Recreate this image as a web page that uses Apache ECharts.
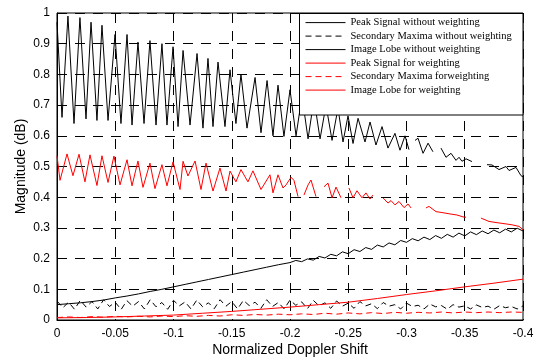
<!DOCTYPE html>
<html><head><meta charset="utf-8">
<script src="https://cdn.jsdelivr.net/npm/echarts@6/dist/echarts.min.js"></script>
<style>html,body{margin:0;padding:0;background:#fff}#c{width:534px;height:360px}</style>
</head><body><div id="c"></div>
<script>
const seriesNames = [
  'Peak Signal without weighting',
  'Secondary Maxima without weighting',
  'Image Lobe without weighting',
  'Peak Signal for weighting',
  'Secondary Maxima forweighting',
  'Image Lobe for weighting'
];
const xTicks = [0, -0.05, -0.1, -0.15, -0.2, -0.25, -0.3, -0.35, -0.4];
const yTicks = [0, 0.1, 0.2, 0.3, 0.4, 0.5, 0.6, 0.7, 0.8, 0.9, 1];

const peakNoWeight = [
 [0,0.97],[-0.0043,0.66],[-0.0094,0.99],[-0.0146,0.64],[-0.0197,0.985],[-0.0249,0.655],
 [-0.0292,0.97],[-0.0343,0.65],[-0.0386,0.96],[-0.0438,0.65],[-0.0498,0.93],[-0.0549,0.64],
 [-0.0601,0.93],[-0.0644,0.635],[-0.0695,0.905],[-0.0747,0.64],[-0.0798,0.91],[-0.085,0.635],
 [-0.0901,0.90],[-0.0944,0.635],[-0.0996,0.89],[-0.1039,0.63],[-0.1082,0.878],[-0.1142,0.635],
 [-0.1202,0.868],[-0.1253,0.625],[-0.1296,0.852],[-0.1339,0.63],[-0.1382,0.84],[-0.1442,0.63],
 [-0.1485,0.815],[-0.1536,0.64],[-0.1579,0.80],[-0.1631,0.625],[-0.17,0.79],[-0.1751,0.61],
 [-0.1803,0.78],[-0.1854,0.60],[-0.1897,0.765],[-0.1948,0.598],[-0.2,0.75],[-0.2052,0.60],
 [-0.2103,0.73],[-0.2155,0.59],[-0.2206,0.72],[-0.2258,0.59],[-0.2309,0.70],[-0.2361,0.585],
 [-0.2412,0.69],[-0.2455,0.58],[-0.2498,0.665],[-0.2541,0.575],[-0.2584,0.657],[-0.2644,0.58],
 [-0.2687,0.645],[-0.2738,0.57],[-0.279,0.63],[-0.2841,0.56],[-0.2901,0.608],[-0.2944,0.553],
 [-0.2987,0.60],[-0.3021,0.555],[-0.305,'-'],
 [-0.3073,0.585],[-0.3099,0.592],[-0.3142,0.543],[-0.3185,0.576],[-0.3227,0.548],[-0.326,'-'],
 [-0.3296,0.56],[-0.3339,0.53],[-0.3382,0.543],[-0.3425,0.52],[-0.3451,0.53],[-0.3476,0.517],
 [-0.3511,0.525],[-0.3562,0.516],[-0.362,'-'],
 [-0.3691,0.506],[-0.3734,0.505],[-0.3794,0.49],[-0.3854,0.50],[-0.388,0.487],[-0.394,0.497],
 [-0.3983,0.47],[-0.4,0.466]
];

const secondaryNoWeight = [
 0.062,0.040,0.058,0.035,0.064,0.042,0.060,0.036,0.066,0.044,
 0.058,0.034,0.063,0.045,0.060,0.036,0.066,0.043,0.057,0.035,
 0.064,0.046,0.059,0.036,0.065,0.043,0.056,0.037,0.066,0.045,
 0.060,0.036,0.064,0.047,0.058,0.038,0.066,0.044,0.057,0.036,
 0.065,0.048,0.059,0.037,0.064,0.046,0.056,0.038,0.062,0.045,
 0.055,0.038,0.060,0.046,0.053,0.037,0.057,0.045,0.050,0.036,
 0.055,0.044,0.048,0.036,0.052,0.043,0.047,0.035,0.050,0.042,
 0.046,0.036,0.049,0.041,0.045,0.035,0.047,0.040,0.044,0.036,
 0.046
];
const secondaryNoWeightX = [
 0,-0.005,-0.01,-0.015,-0.02,-0.025,-0.03,-0.035,-0.04,-0.045,
 -0.05,-0.055,-0.06,-0.065,-0.07,-0.075,-0.08,-0.085,-0.09,-0.095,
 -0.1,-0.105,-0.11,-0.115,-0.12,-0.125,-0.13,-0.135,-0.14,-0.145,
 -0.15,-0.155,-0.16,-0.165,-0.17,-0.175,-0.18,-0.185,-0.19,-0.195,
 -0.2,-0.205,-0.21,-0.215,-0.22,-0.225,-0.23,-0.235,-0.24,-0.245,
 -0.25,-0.255,-0.26,-0.265,-0.27,-0.275,-0.28,-0.285,-0.29,-0.295,
 -0.3,-0.305,-0.31,-0.315,-0.32,-0.325,-0.33,-0.335,-0.34,-0.345,
 -0.35,-0.355,-0.36,-0.365,-0.37,-0.375,-0.38,-0.385,-0.39,-0.395,
 -0.4
];

const imageNoWeight = [
 [0,0.05],[-0.01,0.053],[-0.02,0.056],[-0.03,0.06],[-0.04,0.065],[-0.05,0.072],
 [-0.06,0.078],[-0.07,0.085],[-0.08,0.093],[-0.09,0.10],[-0.1,0.108],[-0.11,0.116],
 [-0.12,0.124],[-0.13,0.132],[-0.14,0.14],[-0.15,0.148],[-0.16,0.156],[-0.17,0.164],
 [-0.18,0.172],[-0.19,0.18],[-0.2,0.187],
 [-0.205,0.194],[-0.21,0.190],[-0.215,0.199],[-0.22,0.195],[-0.225,0.207],[-0.23,0.202],
 [-0.235,0.214],[-0.24,0.209],[-0.245,0.222],[-0.25,0.216],[-0.255,0.229],[-0.26,0.223],
 [-0.265,0.236],[-0.27,0.230],[-0.275,0.244],[-0.28,0.238],[-0.285,0.251],[-0.29,0.245],
 [-0.295,0.259],[-0.3,0.253],[-0.305,0.265],[-0.31,0.258],[-0.315,0.270],[-0.32,0.262],
 [-0.325,0.275],[-0.33,0.266],[-0.335,0.279],[-0.34,0.270],[-0.345,0.283],[-0.35,0.274],
 [-0.355,0.287],[-0.36,0.278],[-0.365,0.290],[-0.37,0.281],[-0.375,0.293],[-0.38,0.284],
 [-0.385,0.296],[-0.39,0.287],[-0.395,0.299],[-0.4,0.290]
];

const peakWeight = [
 [0,0.535],[-0.0026,0.455],[-0.0086,0.541],[-0.0137,0.47],[-0.0189,0.54],[-0.024,0.45],
 [-0.0283,0.538],[-0.0343,0.438],[-0.0386,0.535],[-0.0438,0.448],[-0.0489,0.534],[-0.0541,0.44],
 [-0.0601,0.522],[-0.0644,0.437],[-0.0695,0.518],[-0.0738,0.432],[-0.0798,0.511],[-0.0841,0.428],
 [-0.0901,0.506],[-0.0944,0.437],[-0.0996,0.515],[-0.1056,0.425],[-0.1082,0.517],[-0.1124,0.469],
 [-0.1185,0.518],[-0.1236,0.425],[-0.1279,0.511],[-0.1339,0.42],[-0.1399,0.495],[-0.1451,0.42],
 [-0.1485,0.485],[-0.1536,0.45],[-0.1579,0.49],[-0.1639,0.45],[-0.1682,0.486],[-0.1751,0.425],
 [-0.1828,0.473],[-0.1854,0.414],[-0.1897,0.473],[-0.194,0.43],[-0.1966,0.44],[-0.2009,0.465],
 [-0.2034,0.455],[-0.2069,0.402],[-0.209,'-'],
 [-0.212,0.407],[-0.2155,0.44],[-0.218,0.456],[-0.2223,0.402],[-0.226,'-'],
 [-0.2292,0.434],[-0.2326,0.446],[-0.2361,0.398],[-0.2395,0.433],[-0.2438,0.398],[-0.247,'-'],
 [-0.2506,0.43],[-0.2541,0.398],[-0.2575,0.421],[-0.2618,0.398],[-0.2652,0.414],[-0.2687,0.394],
 [-0.2712,0.407],[-0.275,'-'],
 [-0.2798,0.398],[-0.2841,0.381],[-0.2867,0.389],[-0.2901,0.375],[-0.2936,0.386],[-0.2979,0.366],
 [-0.3013,0.378],[-0.3039,0.365],[-0.31,'-'],
 [-0.3167,0.365],[-0.3193,0.37],[-0.3253,0.353],[-0.3305,0.35],[-0.3365,0.346],[-0.3433,0.342],
 [-0.3494,0.335],[-0.3511,0.335],[-0.357,'-'],
 [-0.3639,0.332],[-0.3708,0.321],[-0.3777,0.317],[-0.3854,0.313],[-0.3906,0.31],[-0.3966,0.305],
 [-0.4,0.294]
];

const secondaryWeight = [
 0.008,0.010,0.008,0.011,0.009,0.012,0.010,0.012,0.010,0.013,
 0.011,0.014,0.012,0.015,0.013,0.017,0.015,0.018,0.016,0.019,
 0.017,0.020,0.018,0.022,0.019,0.023,0.020,0.024,0.021,0.025,
 0.022,0.025,0.023,0.026,0.023,0.026,0.024,0.026,0.024,0.026,
 0.025
];
const secondaryWeightX = [
 0,-0.01,-0.02,-0.03,-0.04,-0.05,-0.06,-0.07,-0.08,-0.09,
 -0.1,-0.11,-0.12,-0.13,-0.14,-0.15,-0.16,-0.17,-0.18,-0.19,
 -0.2,-0.21,-0.22,-0.23,-0.24,-0.25,-0.26,-0.27,-0.28,-0.29,
 -0.3,-0.31,-0.32,-0.33,-0.34,-0.35,-0.36,-0.37,-0.38,-0.39,
 -0.4
];

const imageWeight = [
 [0,0.007],[-0.025,0.008],[-0.05,0.010],[-0.075,0.013],[-0.1,0.016],[-0.125,0.022],
 [-0.15,0.028],[-0.175,0.035],[-0.2,0.042],[-0.225,0.050],[-0.25,0.058],[-0.275,0.070],
 [-0.3,0.083],[-0.325,0.095],[-0.35,0.108],[-0.375,0.120],[-0.4,0.133]
];

const zip = (xs, ys) => xs.map((x, i) => [x, ys[i]]);

const chart = echarts.init(document.getElementById('c'), null, {renderer: 'canvas'});
const lineBase = {type: 'line', symbol: 'none', showSymbol: false, animation: false, silent: true};
chart.setOption({
  backgroundColor: '#fff',
  animation: false,
  grid: {left: 57, right: 11, top: 13, bottom: 40, outerBoundsMode: 'none', containLabel: false,
    show: true, borderColor: '#000', borderWidth: 1, backgroundColor: 'transparent'},
  xAxis: {
    type: 'value', min: -0.4, max: 0, interval: 0.05, inverse: true,
    name: 'Normalized Doppler Shift', nameLocation: 'middle', nameGap: 23, nameMoveOverlap: false,
    nameTextStyle: {fontFamily: 'Liberation Sans, Arial, sans-serif', fontSize: 14, color: '#000'},
    axisLine: {show: true, lineStyle: {color: '#000', width: 1}},
    axisTick: {show: false},
    axisLabel: {margin: 8, fontFamily: 'Liberation Sans, Arial, sans-serif', fontSize: 12, color: '#000',
      formatter: v => { const t = xTicks.find(k => Math.abs(k - v) < 1e-6); return String(t === undefined ? +v.toFixed(2) : t); }},
    splitLine: {show: true, lineStyle: {color: '#000', width: 1, type: [10, 8]}}
  },
  yAxis: {
    type: 'value', min: 0, max: 1, interval: 0.1,
    name: 'Magnitude (dB)', nameLocation: 'middle', nameGap: 29, nameMoveOverlap: false,
    nameTextStyle: {fontFamily: 'Liberation Sans, Arial, sans-serif', fontSize: 14, color: '#000'},
    axisLine: {show: true, lineStyle: {color: '#000', width: 1}},
    axisTick: {show: false},
    axisLabel: {margin: 7, fontFamily: 'Liberation Sans, Arial, sans-serif', fontSize: 12, color: '#000',
      formatter: v => { const t = yTicks.find(k => Math.abs(k - v) < 1e-6); return String(t === undefined ? +v.toFixed(1) : t); }},
    splitLine: {show: true, lineStyle: {color: '#000', width: 1, type: [10, 8]}}
  },
  legend: {
    orient: 'vertical', left: 305, top: 17, padding: 0, itemGap: 2.3, itemWidth: 40, itemHeight: 14,
    z: 10,
    itemStyle: {color: 'transparent', borderColor: 'transparent', borderWidth: 0, opacity: 0},
    lineStyle: {width: 1},
    textStyle: {fontFamily: 'Liberation Serif, Times New Roman, serif', fontSize: 10.5, color: '#000'},
    data: seriesNames
  },
  graphic: [{
    type: 'rect', z: 5, silent: true,
    shape: {x: 299.5, y: 13.5, width: 223.5, height: 101.5},
    style: {fill: '#fff', stroke: '#000', lineWidth: 1}
  }],
  series: [
    Object.assign({}, lineBase, {name: seriesNames[0], data: peakNoWeight, lineStyle: {color: '#000', width: 1}, itemStyle: {color: '#000'}}),
    Object.assign({}, lineBase, {name: seriesNames[1], data: zip(secondaryNoWeightX, secondaryNoWeight), lineStyle: {color: '#000', width: 1, type: [6, 4]}, itemStyle: {color: '#000'}}),
    Object.assign({}, lineBase, {name: seriesNames[2], data: imageNoWeight, lineStyle: {color: '#000', width: 1}, itemStyle: {color: '#000'}}),
    Object.assign({}, lineBase, {name: seriesNames[3], data: peakWeight, lineStyle: {color: '#ff0000', width: 1}, itemStyle: {color: '#ff0000'}}),
    Object.assign({}, lineBase, {name: seriesNames[4], data: zip(secondaryWeightX, secondaryWeight), lineStyle: {color: '#ff0000', width: 1, type: [6, 4]}, itemStyle: {color: '#ff0000'}}),
    Object.assign({}, lineBase, {name: seriesNames[5], data: imageWeight, lineStyle: {color: '#ff0000', width: 1}, itemStyle: {color: '#ff0000'}})
  ]
});
</script>
</body></html>
